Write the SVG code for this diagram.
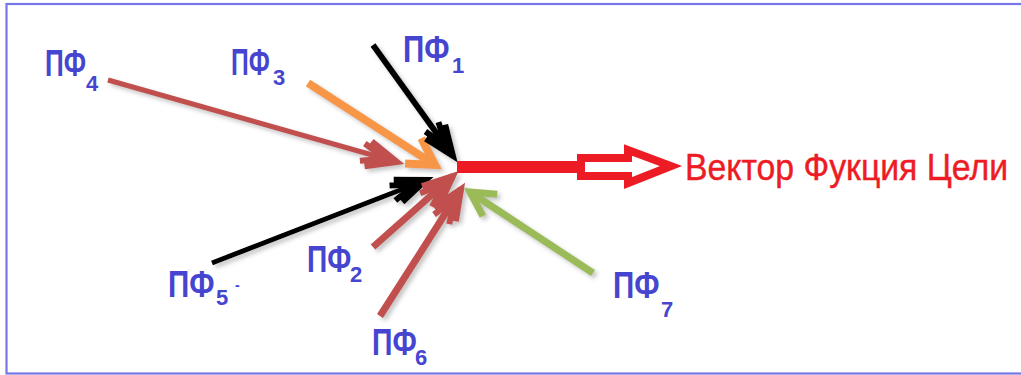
<svg xmlns="http://www.w3.org/2000/svg" width="1021" height="375" viewBox="0 0 1021 375">
<style>
.lbl{font-family:"Liberation Sans",Arial,sans-serif;font-weight:bold;fill:#4545d0;}
.big{font-size:29px;}
.sub{font-size:22px;}
.ln{fill:none;stroke-linecap:butt;}
</style>
<defs>
<filter id="sh" x="-20%" y="-20%" width="140%" height="140%">
<feDropShadow dx="3" dy="3" stdDeviation="2" flood-color="#808080" flood-opacity="0.45"/>
</filter>
<marker id="mBr" markerUnits="userSpaceOnUse" orient="auto" refX="0" refY="0" markerWidth="80" markerHeight="80" viewBox="-40 -40 80 80" overflow="visible">
<path d="M-30,-13 L0,0 L-30,13 M-36,-9 L-12,0 L-36,9" fill="none" stroke="#c0504d" stroke-width="6"/>
</marker>
<marker id="mOr" markerUnits="userSpaceOnUse" orient="auto" refX="0" refY="0" markerWidth="80" markerHeight="80" viewBox="-40 -40 80 80" overflow="visible">
<path d="M-26,-15 L0,0 L-26,15" fill="none" stroke="#f79646" stroke-width="8"/>
</marker>
<marker id="mBk" markerUnits="userSpaceOnUse" orient="auto" refX="0" refY="0" markerWidth="80" markerHeight="80" viewBox="-40 -40 80 80" overflow="visible">
<path d="M-30,-12 L0,0 L-30,12 M-36,-8 L-12,0 L-36,8" fill="none" stroke="#000000" stroke-width="6"/>
</marker>
<marker id="mGr" markerUnits="userSpaceOnUse" orient="auto" refX="0" refY="0" markerWidth="80" markerHeight="80" viewBox="-40 -40 80 80" overflow="visible">
<path d="M-24,-13 L0,0 L-24,13" fill="none" stroke="#9bbb59" stroke-width="7"/>
</marker>
</defs>
<rect x="0" y="0" width="1021" height="375" fill="#ffffff"/>
<rect x="6.5" y="4" width="1030" height="369.5" fill="none" stroke="#7676e6" stroke-width="2.2"/>

<g id="connectors" filter="url(#sh)">
<line class="ln" x1="108" y1="80" x2="397" y2="162" stroke="#c0504d" stroke-width="5" marker-end="url(#mBr)"/>
<line class="ln" x1="308" y1="83" x2="435" y2="165" stroke="#f79646" stroke-width="8" marker-end="url(#mOr)"/>
<line class="ln" x1="373" y1="45" x2="453" y2="156" stroke="#000000" stroke-width="6" marker-end="url(#mBk)"/>
<line class="ln" x1="212" y1="263" x2="426" y2="180" stroke="#000000" stroke-width="5" marker-end="url(#mBk)"/>
<line class="ln" x1="373" y1="247" x2="453" y2="176" stroke="#c0504d" stroke-width="7" marker-end="url(#mBr)"/>
<line class="ln" x1="380" y1="316" x2="461" y2="189" stroke="#c0504d" stroke-width="7" marker-end="url(#mBr)"/>
<line class="ln" x1="593" y1="273" x2="470" y2="192" stroke="#9bbb59" stroke-width="7" marker-end="url(#mGr)"/>
</g>

<g id="result">
<rect x="457" y="161" width="124" height="12" fill="#ed1c24"/>
<path d="M581,158 L628,158 L628,150 L671,166 L628,183 L628,176 L581,176 Z" fill="#ffffff" stroke="#ed1c24" stroke-width="8" stroke-linejoin="miter"/>
<text transform="translate(685,180) scale(1,1.11)" x="0" y="0" font-family="'Liberation Sans',Arial,sans-serif" font-size="33.8" fill="#ed1c24" stroke="#ed1c24" stroke-width="0.4">Вектор Фукция Цели</text>
</g>

<g id="pf4"><text class="lbl big" transform="translate(45,76) scale(0.9,1.3)">ПФ</text><text class="lbl sub" x="86" y="91">4</text></g>
<g id="pf3"><text class="lbl big" transform="translate(231,75) scale(0.85,1.3)">ПФ</text><text class="lbl sub" x="273" y="85">3</text></g>
<g id="pf1"><text class="lbl big" transform="translate(403,62) scale(1.02,1.3)">ПФ</text><text class="lbl sub" x="452" y="73">1</text></g>
<g id="pf5"><text class="lbl big" transform="translate(168,297) scale(1.02,1.3)">ПФ</text><text class="lbl sub" x="216" y="305">5</text><text class="lbl" x="235" y="290" font-size="14">-</text></g>
<g id="pf2"><text class="lbl big" transform="translate(307,272) scale(0.97,1.3)">ПФ</text><text class="lbl sub" x="350" y="282">2</text></g>
<g id="pf6"><text class="lbl big" transform="translate(372,355) scale(0.98,1.3)">ПФ</text><text class="lbl sub" x="415" y="365">6</text></g>
<g id="pf7"><text class="lbl big" transform="translate(613,298) scale(1.02,1.3)">ПФ</text><text class="lbl sub" x="661" y="317">7</text></g>
</svg>
